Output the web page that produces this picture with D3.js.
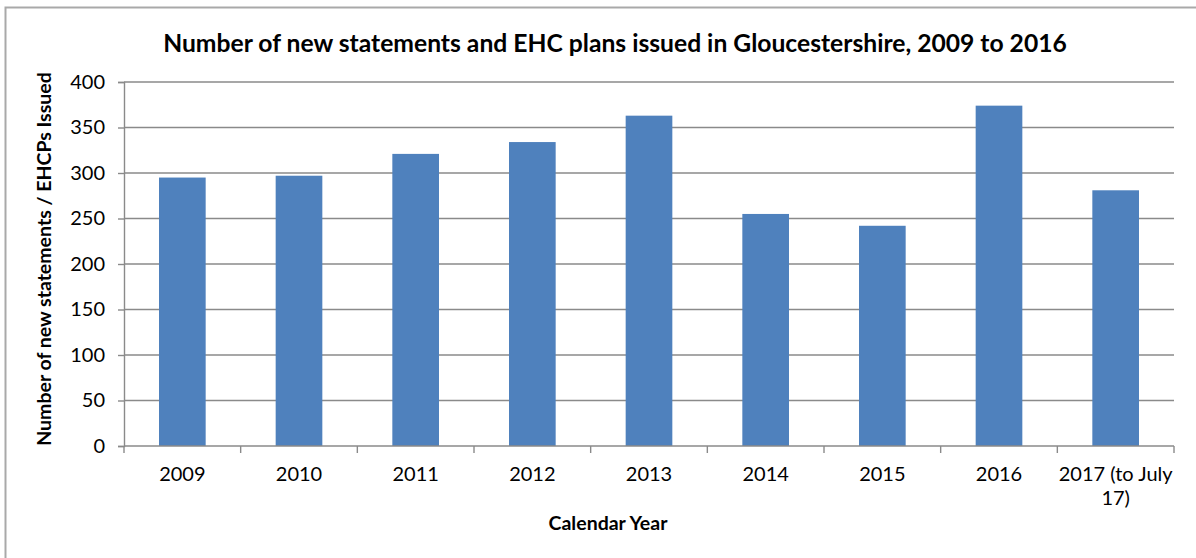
<!DOCTYPE html>
<html>
<head>
<meta charset="utf-8">
<script src="https://cdn.jsdelivr.net/npm/d3@7"></script>
<style>
  body { margin: 0; background: #fff; }
  svg { display: block; }
  text { font-family: Lato, "Open Sans", sans-serif; fill: #000; }
</style>
</head>
<body>
<script>
// Statements / EHC plans issued per calendar year
const categories = ["2009", "2010", "2011", "2012", "2013", "2014", "2015", "2016", "2017 (to July 17)"];
const issued = [295, 297, 321, 334, 363, 255, 242, 374, 281];
const yTicks = [0, 50, 100, 150, 200, 250, 300, 350, 400];

const titleText = "Number of new statements and EHC plans issued in Gloucestershire, 2009 to 2016";
const yTitle = "Number of new statements / EHCPs Issued";
const xTitle = "Calendar Year";

const W = 1196, H = 558;
const plot = { left: 124, right: 1174, top: 82, bottom: 446 };

const svg = d3.select("body").append("svg")
  .attr("width", W).attr("height", H);

// chart area frame (runs off the right and bottom edges)
svg.append("rect")
  .attr("x", 5.5).attr("y", 7.5)
  .attr("width", W + 20).attr("height", H + 20)
  .attr("fill", "#fff")
  .attr("stroke", "#a9a9a9").attr("stroke-width", 2);

const x = d3.scaleBand()
  .domain(categories)
  .range([plot.left, plot.right])
  .paddingInner(0.6).paddingOuter(0.3);

const y = d3.scaleLinear()
  .domain([0, 400])
  .range([plot.bottom, plot.top]);

const gridColor = "#8a8a8a";

// horizontal gridlines
svg.append("g")
  .selectAll("line")
  .data(yTicks.filter(t => t > 0))
  .join("line")
  .attr("x1", plot.left).attr("x2", plot.right)
  .attr("y1", d => y(d)).attr("y2", d => y(d))
  .attr("stroke", gridColor).attr("stroke-width", 1.4);

// bars
svg.append("g")
  .selectAll("rect")
  .data(categories.map((c, i) => ({ c, v: issued[i] })))
  .join("rect")
  .attr("x", d => x(d.c))
  .attr("width", x.bandwidth())
  .attr("y", d => y(d.v))
  .attr("height", d => y(0) - y(d.v))
  .attr("fill", "#4f81bd");

// y axis
const yAxis = svg.append("g")
  .attr("transform", `translate(${plot.left},0)`)
  .call(d3.axisLeft(y).tickValues(yTicks).tickSize(6).tickPadding(13));
yAxis.select(".domain").attr("stroke", gridColor).attr("stroke-width", 1.4);
yAxis.selectAll(".tick line").attr("stroke", gridColor).attr("stroke-width", 1.4);
yAxis.selectAll(".tick text")
  .attr("font-family", "Lato, sans-serif")
  .attr("font-size", 20).attr("fill", "#111");

// x axis: boundary ticks between categories
const xAxisG = svg.append("g");
xAxisG.append("line")
  .attr("x1", plot.left).attr("x2", plot.right)
  .attr("y1", plot.bottom).attr("y2", plot.bottom)
  .attr("stroke", gridColor).attr("stroke-width", 1.4);
const step = x.step();
const edges = categories.map(c => x(c) - (step - x.bandwidth()) / 2)
  .concat([plot.right]);
xAxisG.selectAll("line.tk")
  .data(edges)
  .join("line").attr("class", "tk")
  .attr("x1", d => d).attr("x2", d => d)
  .attr("y1", plot.bottom).attr("y2", plot.bottom + 7)
  .attr("stroke", gridColor).attr("stroke-width", 1.4);

// category labels, wrapped to the category width
const labels = xAxisG.selectAll("text.cat")
  .data(categories)
  .join("text").attr("class", "cat")
  .attr("x", d => x(d) + x.bandwidth() / 2)
  .attr("y", 481)
  .attr("text-anchor", "middle")
  .attr("font-size", 20).attr("fill", "#111");

labels.each(function (d) {
  const t = d3.select(this);
  const words = d.split(" ");
  const maxW = step + 10;
  let line = [];
  let tspan = t.append("tspan").attr("x", x(d) + x.bandwidth() / 2).attr("dy", 0);
  for (const w of words) {
    line.push(w);
    tspan.text(line.join(" "));
    if (tspan.node().getComputedTextLength() > maxW && line.length > 1) {
      line.pop();
      tspan.text(line.join(" "));
      line = [w];
      tspan = t.append("tspan").attr("x", x(d) + x.bandwidth() / 2).attr("dy", 24).text(w);
    }
  }
});

// chart title, sized to span its line
const title = svg.append("text")
  .attr("x", 615).attr("y", 52)
  .attr("text-anchor", "middle")
  .attr("font-weight", "bold")
  .attr("font-size", 22)
  .text(titleText);
const tw = title.node().getComputedTextLength();
title.attr("font-size", 22 * 904 / tw);

// axis titles
svg.append("text")
  .attr("transform", `translate(51,${(68 + 450) / 2}) rotate(-90)`)
  .attr("text-anchor", "middle")
  .attr("font-weight", "bold")
  .attr("font-size", 19.5)
  .text(yTitle);

svg.append("text")
  .attr("x", 608).attr("y", 530)
  .attr("text-anchor", "middle")
  .attr("font-weight", "bold")
  .attr("font-size", 19.5)
  .text(xTitle);
</script>
</body>
</html>
